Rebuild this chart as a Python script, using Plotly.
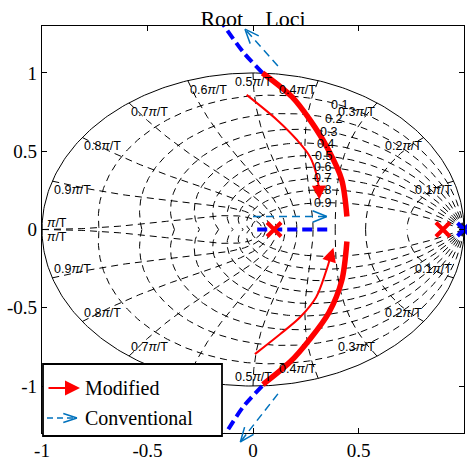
import math
import numpy as np
import plotly.graph_objects as go

# ---- figure geometry ----
W, H = 467, 463
MARGIN = dict(l=42, r=3, t=26, b=30)
X_RANGE = [-1.0, 1.0]
Y_RANGE = [-1.3, 1.3]

x_tick_vals = [-1, -0.5, 0, 0.5, 1]
x_tick_text = ["-1", "-0.5", "0", "0.5", "1"]
y_tick_vals = [-1, -0.5, 0, 0.5, 1]
y_tick_text = ["-1", "-0.5", "0", "0.5", "1"]

# ---- z-plane grid (damping ratio / natural frequency) ----
zeta_vals = [0.1, 0.2, 0.3, 0.4, 0.5, 0.6, 0.7, 0.8, 0.9]
zeta_text = ["0.1", "0.2", "0.3", "0.4", "0.5", "0.6", "0.7", "0.8", "0.9"]
wn_vals = [0.1, 0.2, 0.3, 0.4, 0.5, 0.6, 0.7, 0.8, 0.9, 1.0]  # multiples of pi/T
wn_text = ["0.1<i>π</i>/T", "0.2<i>π</i>/T", "0.3<i>π</i>/T", "0.4<i>π</i>/T",
           "0.5<i>π</i>/T", "0.6<i>π</i>/T", "0.7<i>π</i>/T", "0.8<i>π</i>/T",
           "0.9<i>π</i>/T", "<i>π</i>/T"]
ZETA_LABEL_WN = 0.35  # damping labels sit on this frequency (x pi/T)

# ---- poles ----
mod_pole_x = [0.1, 0.9]
mod_pole_y = [0.0, 0.0]
conv_pole_x = [1.0]
conv_pole_y = [0.0]

# ---- modified root locus ----
mod_up_x = [0.045, 0.185, 0.27, 0.357, 0.42, 0.445]
mod_up_y = [1.0, 0.847, 0.70, 0.51, 0.32, 0.083]
mod_lo_x = [0.445, 0.42, 0.36, 0.27, 0.175, 0.047]
mod_lo_y = [-0.076, -0.33, -0.53, -0.70, -0.847, -0.99]

# ---- conventional root locus ----
conv_real_x = [0.02, 0.365]
conv_real_y = [0.0, 0.0]
conv_up_x = [0.045, -0.047, -0.133, -0.142]
conv_up_y = [1.0, 1.134, 1.293, 1.31]
conv_lo_x = [0.043, -0.047, -0.123, -0.13]
conv_lo_y = [-1.0, -1.134, -1.29, -1.31]

# ---- direction arrows (modified) ----
mod_arrow_up_x = [-0.03, 0.114, 0.21, 0.27, 0.303, 0.313]
mod_arrow_up_y = [0.86, 0.70, 0.57, 0.465, 0.34, 0.25]
mod_arrow_up_tip = (0.314, 0.191)
mod_arrow_lo_x = [0.009, 0.128, 0.223, 0.299, 0.346, 0.366]
mod_arrow_lo_y = [-0.796, -0.669, -0.561, -0.433, -0.268, -0.18]
mod_arrow_lo_tip = (0.381, -0.117)

# ---- direction arrows (conventional): (tail, tip) ----
conv_arrow_mid = ((0.0, 0.083), (0.35, 0.083))
conv_arrow_top = ((0.118, 1.045), (-0.038, 1.28))
conv_arrow_bot = ((0.118, -1.05), (-0.06, -1.357))

RED = "#FF0000"
BLUE = "#0000FF"
LBLUE = "#0072BD"
SERIF = "Liberation Serif, Times New Roman, serif"
NARROW = "Liberation Sans Narrow, Arial Narrow, Liberation Sans, Arial, sans-serif"

PLOT_W = W - MARGIN["l"] - MARGIN["r"]
PLOT_H = H - MARGIN["t"] - MARGIN["b"]
SX = PLOT_W / (X_RANGE[1] - X_RANGE[0])
SY = PLOT_H / (Y_RANGE[1] - Y_RANGE[0])

# legend box corners in pixels (left, top, right, bottom)
LEGEND_BOX = (43, 364, 222, 436)


def y_paper(y):
    return (y - Y_RANGE[0]) / (Y_RANGE[1] - Y_RANGE[0])


def px_paper(px, py):
    return (px - MARGIN["l"]) / PLOT_W, (H - MARGIN["b"] - py) / PLOT_H


def data_px(x, y):
    return MARGIN["l"] + (x - X_RANGE[0]) * SX, MARGIN["t"] + (Y_RANGE[1] - y) * SY


def pix_vec(frm, to):
    """Screen-pixel vector pointing from `to` towards `frm`."""
    return (frm[0] - to[0]) * SX, -(frm[1] - to[1]) * SY


def zpoint(zeta, wn):
    return np.exp(-zeta * wn + 1j * wn * np.sqrt(1 - zeta ** 2))


fig = go.Figure()

# unit circle
th = np.linspace(0, 2 * np.pi, 400)
fig.add_trace(go.Scatter(x=np.cos(th), y=np.sin(th), mode="lines",
                         line=dict(color="black", width=1), hoverinfo="skip"))

# constant damping curves and constant frequency curves
gx, gy = [], []
for z in zeta_vals:
    w = np.linspace(0, np.pi / np.sqrt(1 - z ** 2), 250)
    p = zpoint(z, w)
    gx += list(p.real) + [None] + list(p.real) + [None]
    gy += list(p.imag) + [None] + list(-p.imag) + [None]
for wn in wn_vals:
    zz = np.linspace(0, 1, 200)
    p = zpoint(zz, wn * np.pi)
    gx += list(p.real) + [None] + list(p.real) + [None]
    gy += list(p.imag) + [None] + list(-p.imag) + [None]
fig.add_trace(go.Scatter(x=gx, y=gy, mode="lines", hoverinfo="skip",
                         line=dict(color="black", width=1, dash="7px,5px")))

# conventional locus
for xs, ys in [(conv_real_x, conv_real_y), (conv_up_x, conv_up_y), (conv_lo_x, conv_lo_y)]:
    fig.add_trace(go.Scatter(x=xs, y=ys, mode="lines", line_shape="spline",
                             line=dict(color=BLUE, width=4, dash="10px,5px", smoothing=0.8)))

# modified locus
for xs, ys in [(mod_up_x, mod_up_y), (mod_lo_x, mod_lo_y)]:
    fig.add_trace(go.Scatter(x=xs, y=ys, mode="lines", line_shape="spline",
                             line=dict(color=RED, width=5.5, smoothing=0.9)))

# direction arrows: shafts
for xs, ys in [(mod_arrow_up_x, mod_arrow_up_y), (mod_arrow_lo_x, mod_arrow_lo_y)]:
    fig.add_trace(go.Scatter(x=xs, y=ys, mode="lines", line_shape="spline",
                             line=dict(color=RED, width=2, smoothing=0.9)))
for tail, tip in [conv_arrow_mid, conv_arrow_top, conv_arrow_bot]:
    fig.add_trace(go.Scatter(x=[tail[0], tip[0]], y=[tail[1], tip[1]], mode="lines",
                             line=dict(color=LBLUE, width=1.5, dash="8px,5px")))

# poles
fig.add_trace(go.Scatter(x=conv_pole_x, y=conv_pole_y, mode="markers", cliponaxis=False,
                         marker=dict(symbol="x-thin", size=13, line=dict(color=BLUE, width=4))))
fig.add_trace(go.Scatter(x=mod_pole_x, y=mod_pole_y, mode="markers", cliponaxis=False,
                         marker=dict(symbol="x-thin", size=14, line=dict(color=RED, width=4))))

annotations = []
LABEL_FONT = dict(family=NARROW, size=12.5, color="black")

# grid labels: damping ratios
for z, t in zip(zeta_vals, zeta_text):
    p = zpoint(z, ZETA_LABEL_WN * np.pi)
    annotations.append(dict(x=p.real, y=p.imag, text=t, showarrow=False,
                            xanchor="center", yanchor="middle", font=LABEL_FONT))


def under_legend(x, y):
    px, py = data_px(x, y)
    l, t, r, b = LEGEND_BOX
    return l - 20 <= px <= r + 5 and t - 2 <= py <= b


# grid labels: natural frequencies
for wn, t in zip(wn_vals, wn_text):
    ang = wn * np.pi
    cx, cy = math.cos(ang), math.sin(ang)
    if wn >= 1.0:
        annotations.append(dict(x=-1, y=0, text=t, showarrow=False, xanchor="left",
                                yanchor="bottom", xshift=3, yshift=-2, font=LABEL_FONT))
        annotations.append(dict(x=-1, y=0, text=t, showarrow=False, xanchor="left",
                                yanchor="top", xshift=3, yshift=2, font=LABEL_FONT))
        continue
    xa = "center" if abs(cx) < 1e-6 else ("right" if cx > 0 else "left")
    for sgn in (1, -1):
        if under_legend(cx, sgn * cy):
            continue
        annotations.append(dict(x=cx, y=sgn * cy, text=t, showarrow=False, xanchor=xa,
                                yanchor="top" if sgn > 0 else "bottom", font=LABEL_FONT))

# filled arrow heads on the modified-locus arrows
for tip, base in [(mod_arrow_up_tip, (mod_arrow_up_x[-1], mod_arrow_up_y[-1])),
                  (mod_arrow_lo_tip, (mod_arrow_lo_x[-1], mod_arrow_lo_y[-1]))]:
    dx, dy = pix_vec(base, tip)
    n = math.hypot(dx, dy)
    annotations.append(dict(x=tip[0], y=tip[1], ax=16 * dx / n, ay=16 * dy / n,
                            text="", showarrow=True, arrowhead=2, arrowsize=1.4,
                            arrowwidth=2, arrowcolor=RED))


def chevron(tip, vec, yref="y", xref="x", ty=None, length=17, half_angle=22):
    n = math.hypot(*vec)
    ux, uy = vec[0] / n, vec[1] / n
    a = math.radians(half_angle)
    arms = []
    for s in (1, -1):
        rx = ux * math.cos(s * a) - uy * math.sin(s * a)
        ry = ux * math.sin(s * a) + uy * math.cos(s * a)
        arms.append(dict(x=tip[0], y=tip[1] if ty is None else ty, xref=xref, yref=yref,
                         ax=length * rx, ay=length * ry, text="", showarrow=True,
                         arrowhead=0, arrowwidth=1.5, arrowcolor=LBLUE))
    return arms


# open arrow heads on the conventional-locus arrows
for tail, tip in [conv_arrow_mid, conv_arrow_top]:
    annotations += chevron(tip, pix_vec(tail, tip))
tail, tip = conv_arrow_bot
annotations += chevron(tip, pix_vec(tail, tip), yref="paper", ty=y_paper(tip[1]))
# part of the lower arrow shaft running past the axes frame
edge_y = Y_RANGE[0]
edge_x = tail[0] + (tip[0] - tail[0]) * (edge_y - tail[1]) / (tip[1] - tail[1])
dx, dy = pix_vec((edge_x, edge_y), tip)
annotations.append(dict(x=tip[0], y=y_paper(tip[1]), yref="paper", ax=dx, ay=dy, text="",
                        showarrow=True, arrowhead=0, arrowwidth=1.5, arrowcolor=LBLUE))

# ---- legend box ----
shapes = []
lx0, ly1 = px_paper(LEGEND_BOX[0], LEGEND_BOX[1])
lx1, ly0 = px_paper(LEGEND_BOX[2], LEGEND_BOX[3])
shapes.append(dict(type="rect", xref="paper", yref="paper", x0=lx0, y0=ly0, x1=lx1, y1=ly1,
                   line=dict(color="black", width=1.8), fillcolor="white", layer="above"))
# Modified entry
tx, ty = px_paper(80, 388)
annotations.append(dict(x=tx, y=ty, xref="paper", yref="paper", ax=-33, ay=0, text="",
                        showarrow=True, arrowhead=2, arrowsize=1.5, arrowwidth=2,
                        arrowcolor=RED))
# Conventional entry
bx0, by0 = px_paper(47, 418)
bx1, by1 = px_paper(76, 418)
shapes.append(dict(type="line", xref="paper", yref="paper", x0=bx0, y0=by0, x1=bx1, y1=by1,
                   line=dict(color=LBLUE, width=1.5, dash="6px,4px"), layer="above"))
cx_, cy_ = px_paper(77, 418)
annotations += chevron((cx_, cy_), (-1, 0), xref="paper", yref="paper", length=16,
                       half_angle=18)
for label, py in [("Modified", 388), ("Conventional", 418)]:
    px_, py_ = px_paper(83, py)
    annotations.append(dict(x=px_, y=py_, xref="paper", yref="paper", text=label,
                            showarrow=False, xanchor="left", yanchor="middle",
                            font=dict(family=SERIF, size=20, color="black")))

axis_common = dict(showgrid=False, zeroline=False, showline=True, linecolor="black",
                   linewidth=1.3, mirror="ticks", ticks="inside", ticklen=5,
                   tickcolor="black", tickwidth=1,
                   tickfont=dict(family=SERIF, size=19, color="black"))

fig.update_layout(
    width=W, height=H, margin=dict(MARGIN, pad=0),
    paper_bgcolor="white", plot_bgcolor="white", showlegend=False,
    title=dict(text="Root\u00a0\u00a0\u00a0 Loci", x=0.5, xref="paper", xanchor="center",
               y=1 - 18 / H, yref="container", yanchor="middle",
               font=dict(family=SERIF, size=22, color="black")),
    xaxis=dict(range=X_RANGE, tickvals=x_tick_vals, ticktext=x_tick_text, **axis_common),
    yaxis=dict(range=Y_RANGE, tickvals=y_tick_vals, ticktext=y_tick_text, **axis_common),
    annotations=annotations, shapes=shapes,
)

fig.write_html("out.html")
